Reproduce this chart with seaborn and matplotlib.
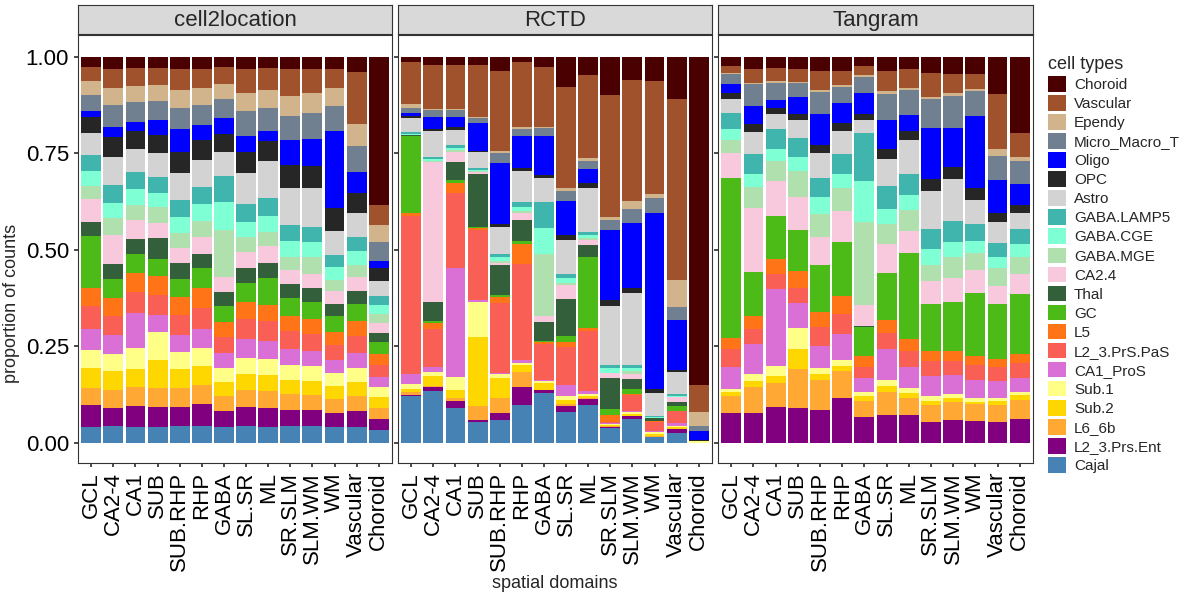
import matplotlib
matplotlib.use("Agg")
import matplotlib.pyplot as plt
from matplotlib.patches import Patch, Rectangle
import numpy as np
import seaborn as sns

domains = ["GCL", "CA2-4", "CA1", "SUB", "SUB.RHP", "RHP", "GABA", "SL.SR",
           "ML", "SR.SLM", "SLM.WM", "WM", "Vascular", "Choroid"]
methods = ["cell2location", "RCTD", "Tangram"]

# bottom-to-top stacking order
cell_types = ["Cajal", "L2_3.Prs.Ent", "L6_6b", "Sub.2", "Sub.1", "CA1_ProS",
              "L2_3.PrS.PaS", "L5", "GC", "Thal", "CA2.4", "GABA.MGE", "GABA.CGE",
              "GABA.LAMP5", "Astro", "OPC", "Oligo", "Micro_Macro_T", "Ependy",
              "Vascular", "Choroid"]
cell_colors = ["#4682B4", "#800080", "#FFA833", "#FFD700", "#FFFF88", "#DA70D6",
               "#FA5F55", "#FF7417", "#4CBB17", "#335F3B", "#F8C8DC", "#B0E0AE",
               "#7FFFD4", "#40B5AD", "#D3D3D3", "#262626", "#0000FF", "#708090",
               "#D2B48C", "#A0522D", "#4A0000"]

# relative amounts per domain (same order as cell_types), normalised below
cell2location = [
    [16, 22, 17, 20, 18, 21, 23, 18, 53, 14, 23, 13, 15, 16, 22, 16, 6, 16, 14, 14, 10],
    [17, 18, 18, 19, 17, 19, 19, 18, 19, 15, 30, 17, 15, 18, 28, 20, 10, 22, 17, 19, 12],
    [16, 21, 19, 18, 21, 35, 21, 19, 19, 15, 20, 15, 16, 17, 23, 18, 9, 20, 16, 18, 11],
    [16, 20, 19, 28, 28, 17, 20, 19, 17, 21, 16, 16, 14, 16, 24, 18, 15, 19, 16, 17, 11],
    [17, 19, 19, 19, 17, 17, 20, 18, 18, 16, 15, 16, 16, 17, 27, 21, 23, 21, 18, 21, 12],
    [17, 22, 19, 19, 18, 19, 21, 20, 20, 14, 18, 16, 17, 17, 27, 20, 15, 20, 17, 19, 12],
    [16, 16, 15, 14, 14, 15, 16, 15, 16, 14, 15, 48, 28, 26, 24, 18, 16, 19, 15, 17, 10],
    [17, 19, 17, 16, 16, 19, 20, 17, 19, 15, 16, 15, 16, 18, 31, 21, 16, 25, 18, 24, 12],
    [16, 19, 17, 16, 16, 18, 20, 16, 27, 15, 17, 15, 16, 18, 37, 20, 10, 23, 18, 22, 11],
    [17, 16, 16, 14, 15, 16, 18, 15, 18, 14, 14, 13, 16, 17, 37, 23, 25, 24, 20, 27, 12],
    [17, 16, 15, 14, 15, 15, 17, 15, 17, 14, 14, 17, 15, 16, 39, 22, 27, 26, 20, 24, 12],
    [16, 14, 14, 13, 13, 13, 15, 13, 16, 12, 13, 11, 13, 12, 25, 23, 77, 25, 18, 19, 12],
    [16, 16, 15, 14, 14, 15, 17, 15, 17, 13, 14, 12, 14, 14, 25, 20, 21, 26, 22, 52, 15],
    [13, 11, 11, 11, 10, 10, 12, 11, 12, 9, 10, 9, 9, 9, 15, 13, 7, 19, 18, 20, 148],
]
rctd = [
    [35, 1, 2, 2, 4, 7, 118, 2, 57, 1, 0, 0, 1, 1, 11, 1, 2, 4, 3, 31, 4],
    [52, 4, 1, 10, 4, 5, 38, 6, 2, 19, 141, 1, 2, 2, 26, 2, 12, 7, 1, 44, 8],
    [35, 7, 3, 8, 13, 109, 76, 10, 3, 18, 10, 2, 2, 3, 15, 3, 10, 7, 1, 44, 8],
    [21, 2, 14, 69, 35, 2, 71, 2, 1, 53, 2, 1, 1, 2, 16, 1, 28, 5, 1, 52, 8],
    [23, 7, 15, 20, 4, 1, 70, 6, 2, 30, 2, 2, 4, 3, 28, 3, 61, 10, 2, 80, 14],
    [38, 18, 15, 7, 2, 3, 96, 20, 3, 22, 7, 2, 4, 5, 31, 3, 32, 7, 2, 65, 5],
    [50, 3, 0, 7, 2, 1, 36, 2, 1, 19, 6, 62, 27, 26, 24, 3, 39, 8, 1, 60, 10],
    [31, 6, 2, 4, 4, 11, 38, 5, 6, 37, 14, 2, 5, 4, 34, 6, 34, 10, 3, 101, 30],
    [38, 6, 1, 2, 2, 3, 61, 3, 71, 12, 5, 2, 3, 3, 44, 5, 14, 8, 3, 84, 18],
    [15, 1, 1, 1, 1, 1, 1, 7, 6, 31, 5, 0, 5, 3, 59, 6, 71, 10, 3, 122, 38],
    [24, 3, 0, 2, 2, 1, 16, 1, 5, 10, 5, 4, 3, 3, 72, 5, 66, 14, 8, 122, 23],
    [6, 0, 1, 2, 2, 1, 9, 1, 0, 3, 0, 0, 1, 1, 23, 4, 177, 15, 4, 113, 24],
    [10, 4, 0, 2, 1, 3, 12, 0, 5, 4, 5, 0, 1, 2, 22, 2, 50, 13, 27, 182, 42],
    [0, 0, 0, 0, 2, 0, 0, 0, 0, 0, 0, 0, 0, 0, 0, 1, 9, 5, 14, 27, 329],
]
tangram = [
    [0, 30, 17, 4, 3, 22, 18, 11, 161, 0, 25, 13, 11, 16, 14, 6, 9, 10, 1, 7, 9],
    [0, 30, 26, 6, 7, 30, 15, 13, 44, 0, 65, 21, 13, 20, 22, 8, 18, 22, 1, 14, 12],
    [0, 36, 24, 7, 10, 77, 15, 15, 44, 0, 35, 20, 12, 20, 15, 6, 8, 17, 2, 13, 11],
    [0, 35, 39, 20, 21, 25, 15, 17, 42, 0, 33, 26, 14, 19, 18, 6, 17, 14, 1, 13, 12],
    [0, 33, 30, 6, 6, 22, 19, 15, 47, 0, 29, 23, 17, 19, 25, 8, 31, 22, 2, 19, 14],
    [0, 45, 27, 5, 6, 26, 20, 18, 54, 0, 32, 23, 14, 20, 23, 8, 20, 16, 2, 14, 14],
    [0, 26, 16, 5, 4, 14, 11, 11, 29, 1, 21, 84, 41, 48, 13, 6, 21, 16, 2, 9, 9],
    [0, 28, 23, 6, 6, 31, 16, 13, 47, 0, 29, 21, 15, 23, 27, 10, 29, 26, 3, 20, 14],
    [0, 28, 17, 5, 5, 21, 16, 12, 86, 0, 23, 21, 15, 21, 34, 9, 16, 25, 2, 19, 12],
    [0, 21, 17, 4, 5, 20, 15, 10, 47, 0, 23, 16, 16, 21, 38, 12, 51, 29, 2, 24, 16],
    [0, 23, 18, 4, 4, 19, 14, 10, 49, 0, 24, 21, 15, 22, 42, 12, 39, 32, 3, 19, 17],
    [0, 22, 17, 2, 4, 18, 15, 9, 63, 0, 23, 17, 12, 18, 24, 12, 72, 25, 2, 15, 17],
    [0, 21, 17, 4, 3, 17, 14, 8, 55, 0, 18, 18, 11, 14, 22, 9, 33, 24, 7, 55, 37],
    [0, 24, 19, 5, 3, 14, 15, 9, 60, 0, 20, 17, 13, 16, 16, 8, 21, 23, 4, 24, 76],
]

sns.set_theme(style="white")
plt.rcParams["font.family"] = ["Liberation Sans", "DejaVu Sans"]

fig = plt.figure(figsize=(12, 6), dpi=100)
W, H = 1200, 600
panels_x = [(78, 392), (398, 712), (718, 1033)]
top, bottom = 35, 463

for i, (method, data) in enumerate(zip(methods, [cell2location, rctd, tangram])):
    x0, x1 = panels_x[i]
    ax = fig.add_axes([x0 / W, 1 - bottom / H, (x1 - x0) / W, (bottom - top) / H])
    props = np.array(data, dtype=float)
    props = props / props.sum(axis=1, keepdims=True)
    xs = np.arange(len(domains))
    base = np.zeros(len(domains))
    for j, ct in enumerate(cell_types):
        ax.bar(xs, props[:, j], bottom=base, width=0.9, color=cell_colors[j],
               linewidth=0)
        base += props[:, j]
    ax.set_xlim(-0.6, len(domains) - 0.4)
    ax.set_ylim(-0.052, 1.057)
    ax.set_xticks(xs)
    ax.set_xticklabels(domains, rotation=90, fontsize=16, color="black")
    ax.set_yticks([0, 0.25, 0.5, 0.75, 1.0])
    if i == 0:
        ax.set_yticklabels(["0.00", "0.25", "0.50", "0.75", "1.00"], fontsize=16,
                           color="black")
    else:
        ax.set_yticklabels([])
    ax.tick_params(axis="both", length=3, color="#333333", bottom=True, left=True)
    for s in ax.spines.values():
        s.set_color("#333333")
        s.set_linewidth(0.8)
    # facet strip
    sax = fig.add_axes([x0 / W, 1 - 34 / H, (x1 - x0) / W, 29 / H])
    sax.set_xticks([])
    sax.set_yticks([])
    sax.set_facecolor("#D9D9D9")
    for s in sax.spines.values():
        s.set_color("#333333")
        s.set_linewidth(0.8)
    sax.text(0.5, 0.45, method, ha="center", va="center", fontsize=16,
             transform=sax.transAxes)

fig.text(12 / W, 0.5 - 3 / H, "proportion of counts", rotation=90, ha="center",
         va="center", fontsize=13)
fig.text(555 / W, 1 - 584 / H, "spatial domains", ha="center", va="center",
         fontsize=13)

handles = [Patch(facecolor=c, edgecolor="none", label=l)
           for l, c in zip(cell_types[::-1], cell_colors[::-1])]
leg = fig.legend(handles=handles, loc="upper left", bbox_to_anchor=(1042 / W, 1 - 50 / H),
                 frameon=False, fontsize=11, title="cell types", title_fontsize=13,
                 handlelength=1.2, handleheight=1.2, labelspacing=0.2,
                 handletextpad=0.5, borderaxespad=0)
leg._legend_box.align = "left"

fig.savefig("out.png", dpi=100)
